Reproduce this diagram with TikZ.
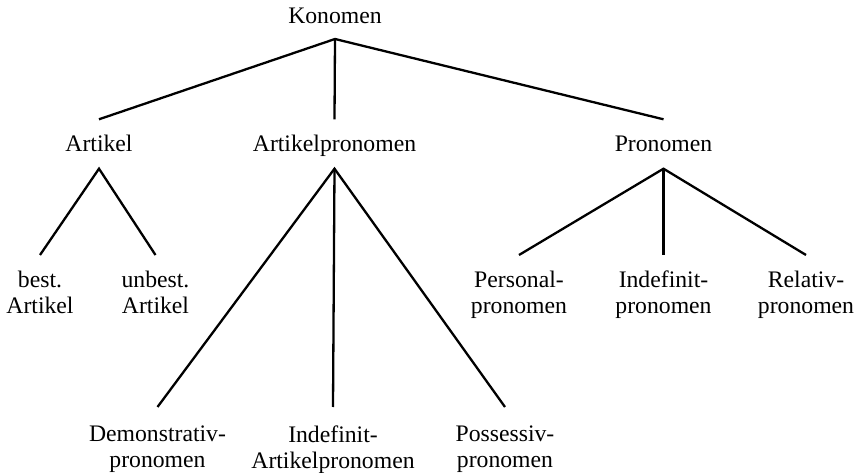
\documentclass[tikz,border=0pt]{standalone}
\usepackage{fontspec}
\setmainfont{Liberation Serif}
\begin{document}
\begin{tikzpicture}[x=1pt,y=-1pt,
  every node/.style={font=\fontsize{23.7pt}{26pt}\selectfont, inner xsep=0pt},
  rootbox/.style={anchor=south, text height=16pt, text depth=0pt, inner ysep=15pt},
  midbox/.style={text height=16pt, text depth=0pt, inner ysep=16.5pt, anchor=base},
  leafbox/.style={anchor=north, align=center, inner ysep=16pt},
  lowleaf/.style={leafbox, inner ysep=19pt},
  branch/.style={line width=2.3pt}]
\useasboundingbox (0,0) rectangle (860,473);
% nodes
\node[rootbox] (kon) at (335,39) {Konomen};
\node[midbox] (art) at (99,152) {Artikel};
\node[midbox] (artp) at (334.5,152) {Artikelpronomen};
\node[midbox] (pron) at (663.5,152) {Pronomen};
\node[leafbox] (best) at (40,255) {best.\\Artikel};
\node[leafbox] (unbest) at (155.5,255) {unbest.\\Artikel};
\node[leafbox] (pers) at (519,255) {Personal-\\pronomen};
\node[leafbox] (indef) at (663.5,255) {Indefinit-\\pronomen};
\node[leafbox] (rel) at (806,255) {Relativ-\\pronomen};
\node[lowleaf] (dem) at (157.5,407) {Demonstrativ-\\pronomen};
\node[lowleaf] (indart) at (333,407) {Indefinit-\\Artikelpronomen};
\node[lowleaf] (poss) at (505,407) {Possessiv-\\pronomen};
% connectors
\draw[branch] (art.north) -- (kon.south) -- (pron.north);
\draw[branch] (kon.south) -- (artp.north);
\draw[branch] (best.north) -- (art.south) -- (unbest.north);
\draw[branch] (dem.north) -- (artp.south) -- (poss.north);
\draw[branch] (artp.south) -- (indart.north);
\draw[branch] (pers.north) -- (pron.south) -- (rel.north);
\draw[branch] (pron.south) -- (indef.north);
\end{tikzpicture}
\end{document}
